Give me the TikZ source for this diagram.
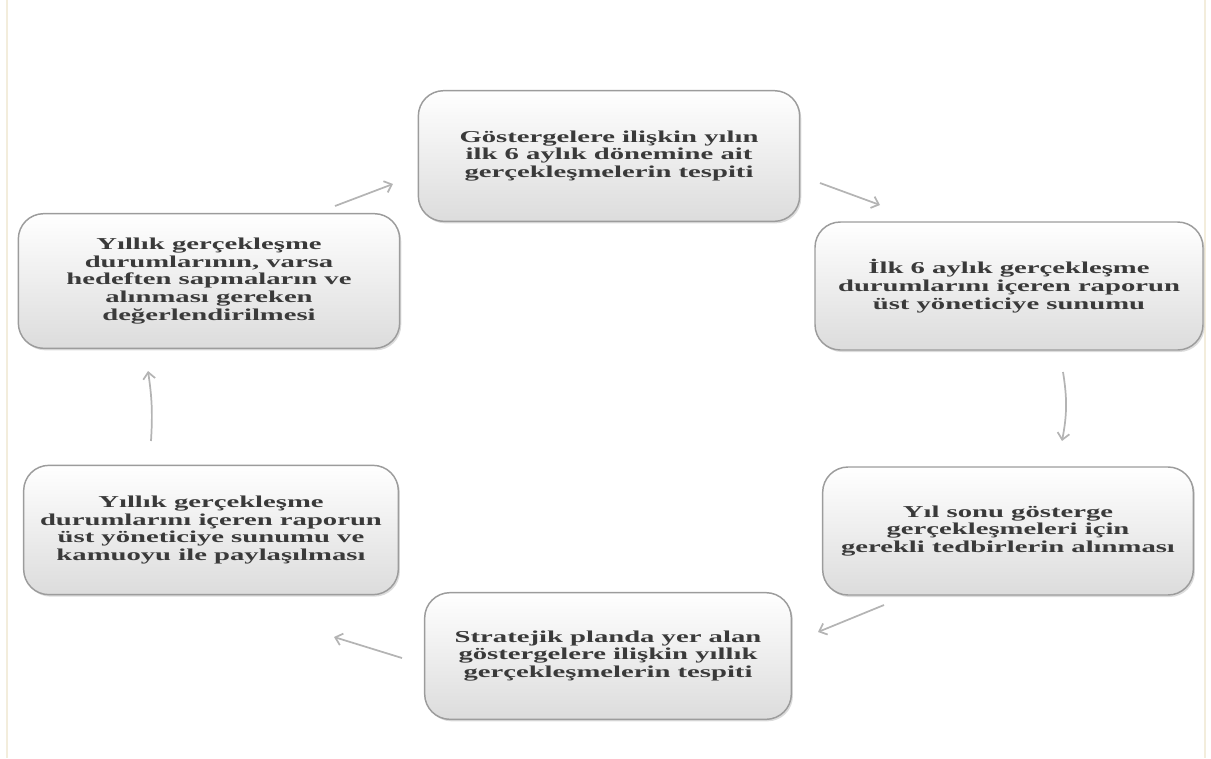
\documentclass[tikz,border=0pt]{standalone}
\usepackage{fontspec}
\setmainfont[FakeStretch=1.72]{Liberation Serif}
\usepackage{tikz}
\usetikzlibrary{shapes,arrows.meta,positioning,shadows}
\definecolor{boxline}{HTML}{9C9C9C}
\definecolor{boxbot}{HTML}{DCDCDC}
\definecolor{boxtext}{HTML}{3A3A3A}
\definecolor{arrowgray}{HTML}{B4B4B4}
\definecolor{edgeline}{HTML}{F3EDDC}
\tikzstyle{stepbox} = [rectangle, rounded corners=19pt, draw=boxline, line width=1.1pt, top color=white, bottom color=boxbot, drop shadow={shadow xshift=1.2pt, shadow yshift=-1.5pt, fill=black!30, opacity=.45}, align=center, font=\fontsize{12.5}{13.3}\selectfont\bfseries, text=boxtext, inner sep=0pt]
\tikzstyle{line} = [draw=arrowgray, line width=1.3pt, -{Straight Barb[length=5pt,width=9pt]}]

\begin{document}
\begin{tikzpicture}[x=0.75pt, y=-0.75pt]
			\useasboundingbox (0,0) rectangle (1211,758);
			\draw [edgeline, line width=1.5pt] (7,0) -- (7,758);
			\draw [edgeline, line width=1.5pt] (1205,0) -- (1205,758);

			\node [stepbox, minimum width=286pt, minimum height=98pt] (ilk6) at (609,156) {Göstergelere ilişkin yılın\\ilk 6 aylık dönemine ait\\gerçekleşmelerin tespiti};
			\node [stepbox, minimum width=291pt, minimum height=96pt] (rapor6) at (1009,286) {İlk 6 aylık gerçekleşme\\durumlarını içeren raporun\\üst yöneticiye sunumu};
			\node [stepbox, minimum width=278pt, minimum height=96pt] (tedbir) at (1008,531) {Yıl sonu gösterge\\gerçekleşmeleri için\\gerekli tedbirlerin alınması};
			\node [stepbox, minimum width=275pt, minimum height=95pt] (yillik) at (608,656) {Stratejik planda yer alan\\göstergelere ilişkin yıllık\\gerçekleşmelerin tespiti};
			\node [stepbox, minimum width=281pt, minimum height=97pt] (paylasim) at (211,530) {Yıllık gerçekleşme\\durumlarını içeren raporun\\üst yöneticiye sunumu ve\\kamuoyu ile paylaşılması};
			\node [stepbox, minimum width=286pt, minimum height=101pt] (deger) at (209,281) {Yıllık gerçekleşme\\durumlarının, varsa\\hedeften sapmaların ve\\alınması gereken\\değerlendirilmesi};

			\coordinate (a1s) at (335,206);
			\coordinate (a1e) at (393,184);
			\coordinate (a2s) at (820,183);
			\coordinate (a2e) at (880,205);
			\coordinate (a3s) at (1063,372);
			\coordinate (a3e) at (1062,441);
			\coordinate (a4s) at (884,605);
			\coordinate (a4e) at (818,632);
			\coordinate (a5s) at (402,658);
			\coordinate (a5e) at (334,637);
			\coordinate (a6s) at (151,441);
			\coordinate (a6e) at (148,371);

			\path [line] (a1s) -- (a1e);
			\path [line] (a2s) -- (a2e);
			\path [line] (a3s) to [bend left=10] (a3e);
			\path [line] (a4s) -- (a4e);
			\path [line] (a5s) -- (a5e);
			\path [line] (a6s) to [bend right=6] (a6e);
		\end{tikzpicture}
\end{document}
